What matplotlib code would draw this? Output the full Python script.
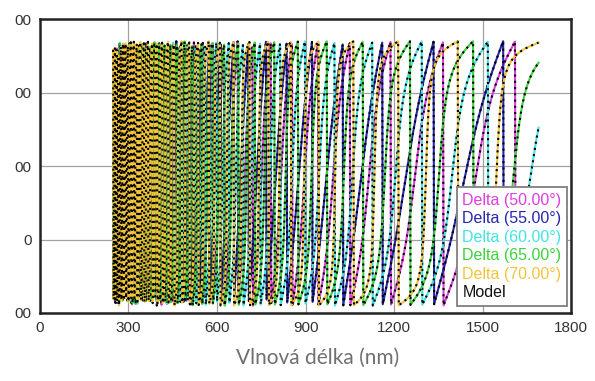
import numpy as np
import matplotlib.pyplot as plt

# angles of incidence and their legend entries / colours
angles = [50.0, 55.0, 60.0, 65.0, 70.0]
labels = ["Delta (50.00°)", "Delta (55.00°)", "Delta (60.00°)",
          "Delta (65.00°)", "Delta (70.00°)"]
colors = ["#e03ce0", "#2626b0", "#40e4e4", "#3cd23c", "#f2c43c"]

# per-angle fringe parameters: optical path (nm, at 1.4 um), fringe order offset,
# steepness of the Delta wrap
opt_path = [9016.0, 8850.0, 8691.0, 8545.0, 8417.0]
order_offset = [0.593, 0.633, 0.718, 0.817, 0.936]
steepness = [0.25, 0.10, 0.40, 0.55, 0.75]
disp_b = 0.006  # Cauchy-like dispersion term, um^2

# measured range (nm)
wl_start, wl_stop, wl_step = 248.0, 1692.0, 2.0

xticks = [0, 300, 600, 900, 1200, 1500, 1800]
yticks = [-100, 0, 100, 200, 300]
ytick_text = ["00", "0", "00", "00", "00"]

wl = np.arange(wl_start, wl_stop, wl_step)


def delta(path, offset, a):
    um = wl / 1000.0
    g = (1 + disp_b / um**2) / (1 + disp_b / 1.4**2)
    v = path * g / wl - offset
    u = np.pi - 2 * np.pi * v
    e = np.exp(1j * u)
    d = 90.0 + np.degrees(np.angle((e - a) / (1 - a * e)))
    return (d + 90.0) % 360.0 - 90.0


fig = plt.figure(figsize=(5.95, 3.81), dpi=100)
ax = fig.add_axes([0.0672, 0.1785, 0.8925, 0.7715])

curves = [delta(p, o, s) for p, o, s in zip(opt_path, order_offset, steepness)]
for i, (c, col, lab) in enumerate(zip(curves, colors, labels)):
    ax.plot(wl, c, color=col, lw=1.5, label=lab)
    ax.plot(wl, c, color="black", lw=1.5, ls=(0, (1, 2.0)),
            label="Model" if i == 0 else None)

ax.set_xlim(0, 1800)
ax.set_ylim(-100, 300)
ax.set_xticks(xticks)
ax.set_yticks(yticks)
ax.set_yticklabels(ytick_text)
ax.grid(True, color="#a0a0a0", lw=0.9)
ax.set_axisbelow(True)
ax.tick_params(length=0, pad=6, labelsize=11, labelcolor="#333333")
for lab in ax.get_xticklabels() + ax.get_yticklabels():
    lab.set_family("Liberation Sans")
for sp in ax.spines.values():
    sp.set_linewidth(1.8)
    sp.set_color("#222222")

handles, names = ax.get_legend_handles_labels()
order = [0, 2, 3, 4, 5, 1]
leg = ax.legend([handles[k] for k in order], [names[k] for k in order],
                loc="upper left", bbox_to_anchor=(0.785, 0.4286),
                borderaxespad=0, handlelength=0, handletextpad=0, borderpad=0.35,
                labelspacing=0.22, fancybox=False, framealpha=1,
                edgecolor="#888888",
                prop={"family": "Liberation Sans", "size": 11.5})
leg.get_frame().set_linewidth(1.4)
for h in leg.legend_handles:
    h.set_visible(False)
for t, col in zip(leg.get_texts(), colors + ["#111111"]):
    t.set_color(col)

fig.text(318 / 595, 1 - 358 / 381, "Vlnová délka (nm)", ha="center", va="center",
         fontsize=15, color="#707070", family="Lato")

fig.savefig("out.png", dpi=100)
